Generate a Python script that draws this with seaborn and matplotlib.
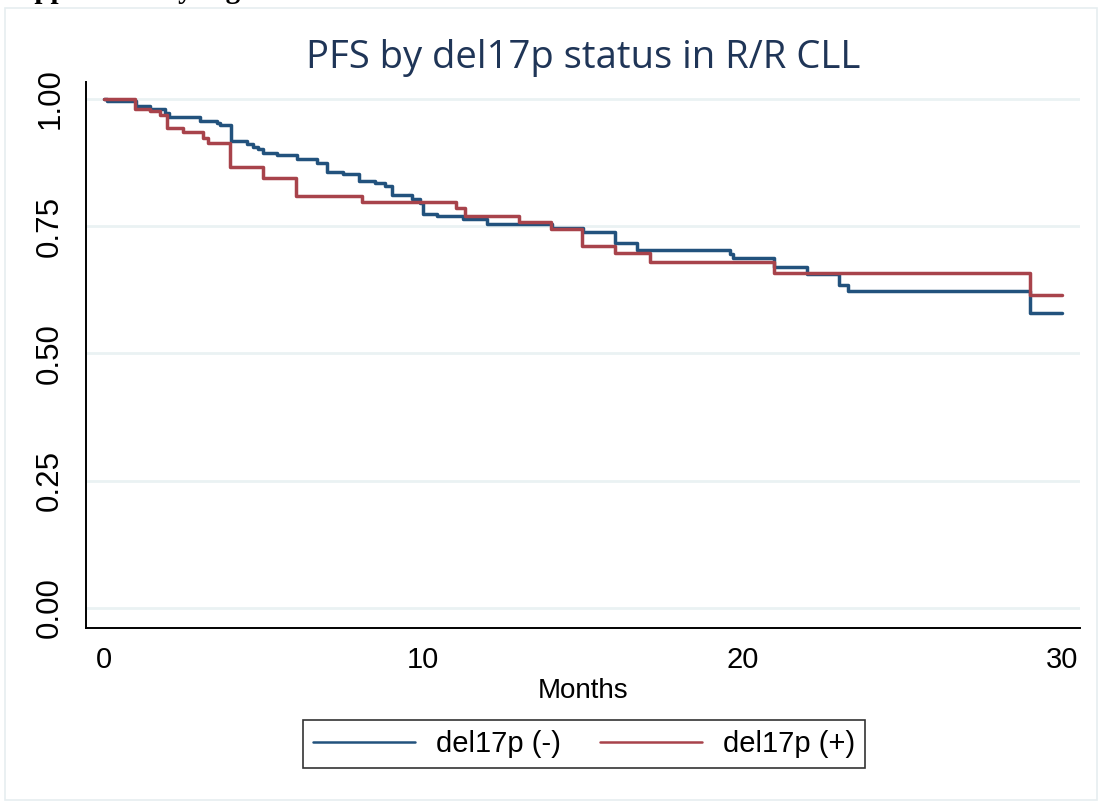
import matplotlib
matplotlib.use("Agg")
import matplotlib.pyplot as plt
import seaborn as sns
import pandas as pd
from matplotlib.patches import Rectangle
from matplotlib.lines import Line2D

# ---- data ----
neg_time = [0, 0.1, 1.0, 1.44, 1.91, 2.04, 3.0, 3.54, 3.63, 3.98, 4.48, 4.67, 4.81, 4.98,
            5.41, 6.04, 6.66, 6.97, 7.49, 8.0, 8.49, 8.80, 9.01, 9.64, 9.90, 9.98, 10.42,
            11.25, 11.99, 14.02, 14.99, 16.0, 16.68, 19.61, 19.69, 21.0, 22.01, 23.03,
            23.31, 29.0, 30.0]
neg_surv = [1.0, 0.997, 0.986, 0.980, 0.973, 0.965, 0.957, 0.952, 0.949, 0.918, 0.911,
            0.906, 0.901, 0.893, 0.890, 0.882, 0.875, 0.857, 0.852, 0.839, 0.834, 0.829,
            0.811, 0.803, 0.796, 0.775, 0.770, 0.765, 0.754, 0.747, 0.738, 0.718, 0.703,
            0.695, 0.687, 0.669, 0.657, 0.635, 0.622, 0.579, 0.579]
pos_time = [0, 0.97, 1.44, 1.75, 1.96, 2.48, 3.11, 3.27, 3.95, 4.98, 6.01, 8.07, 11.02,
            11.31, 13.0, 14.0, 14.96, 16.0, 17.1, 20.99, 29.0, 30.0]
pos_surv = [1.0, 0.980, 0.977, 0.969, 0.944, 0.936, 0.924, 0.914, 0.867, 0.844, 0.809,
            0.798, 0.785, 0.771, 0.759, 0.745, 0.712, 0.698, 0.680, 0.659, 0.614, 0.614]
group_labels = ["del17p (-)", "del17p (+)"]
x_ticks = [0, 10, 20, 30]
y_ticks = [0.00, 0.25, 0.50, 0.75, 1.00]
y_tick_labels = ["0.00", "0.25", "0.50", "0.75", "1.00"]
title = "PFS by del17p status in R/R CLL"
x_label = "Months"

df = pd.concat([
    pd.DataFrame({"Months": neg_time, "S": neg_surv, "group": group_labels[0]}),
    pd.DataFrame({"Months": pos_time, "S": pos_surv, "group": group_labels[1]}),
])

sns.set_theme(style="white")
plt.rcParams["font.family"] = ["Liberation Sans", "DejaVu Sans"]
plt.rcParams["text.color"] = "black"

W, H = 1102, 805
fig = plt.figure(figsize=(W / 100, H / 100), dpi=100)
ax = fig.add_axes([86 / W, 1 - 628 / H, (1080 - 86) / W, (628 - 82) / H])

palette = {group_labels[0]: "#22527d", group_labels[1]: "#a8434b"}
sns.lineplot(data=df, x="Months", y="S", hue="group", palette=palette,
             estimator=None, drawstyle="steps-post", linewidth=2.5, ax=ax,
             legend=False)

ax.set_xlim(-0.564, 30.57)
ax.set_ylim(-0.0393, 1.0334)
ax.set_xticks(x_ticks)
ax.set_xticklabels([str(t) for t in x_ticks], fontsize=21)
ax.set_yticks(y_ticks)
ax.set_yticklabels(y_tick_labels, fontsize=22.5, rotation=90, va="center")
for yt in y_ticks:
    ax.axhline(yt, color="#eaf2f3", linewidth=2, zorder=0)
ax.grid(False)

for s in ["top", "right"]:
    ax.spines[s].set_visible(False)
for s in ["left", "bottom"]:
    ax.spines[s].set_color("black")
    ax.spines[s].set_linewidth(1.4)
ax.tick_params(axis="both", which="major", direction="out", length=8, width=1.3,
               color="black", labelcolor="black")
ax.tick_params(axis="y", pad=7)
ax.tick_params(axis="x", pad=5)

ax.set_xlabel(x_label, fontsize=20, labelpad=3, color="black")
ax.set_ylabel("")
ax.set_title(title, fontsize=27.5, color="#1f3557", pad=10,
             family=["Open Sans", "DejaVu Sans"])

# legend
handles = [Line2D([], [], color=palette[g], linewidth=1.8) for g in group_labels]
leg = fig.legend(handles, group_labels, loc="center", bbox_to_anchor=(584 / W, 1 - 744 / H),
                 ncol=2, frameon=True, fancybox=False, edgecolor="black", fontsize=21,
                 handlelength=3.5, handletextpad=0.7, columnspacing=1.35, borderpad=0.35,
                 labelcolor="black")
leg.get_frame().set_linewidth(1.2)

# outer graph-region border
fig.patches.append(Rectangle((5 / W, 1 - 800 / H), (1097 - 5) / W, (800 - 8) / H,
                             transform=fig.transFigure, fill=False,
                             edgecolor="#e6eef0", linewidth=1.2))

# cropped caption at very top (as in the reference)
fig.text(2 / W, 1 + 2 / H, "Supplementary Figure", fontsize=21, fontweight="bold",
         family=["Liberation Serif", "DejaVu Serif"], va="baseline", ha="left")

fig.savefig("out.png", dpi=100)
